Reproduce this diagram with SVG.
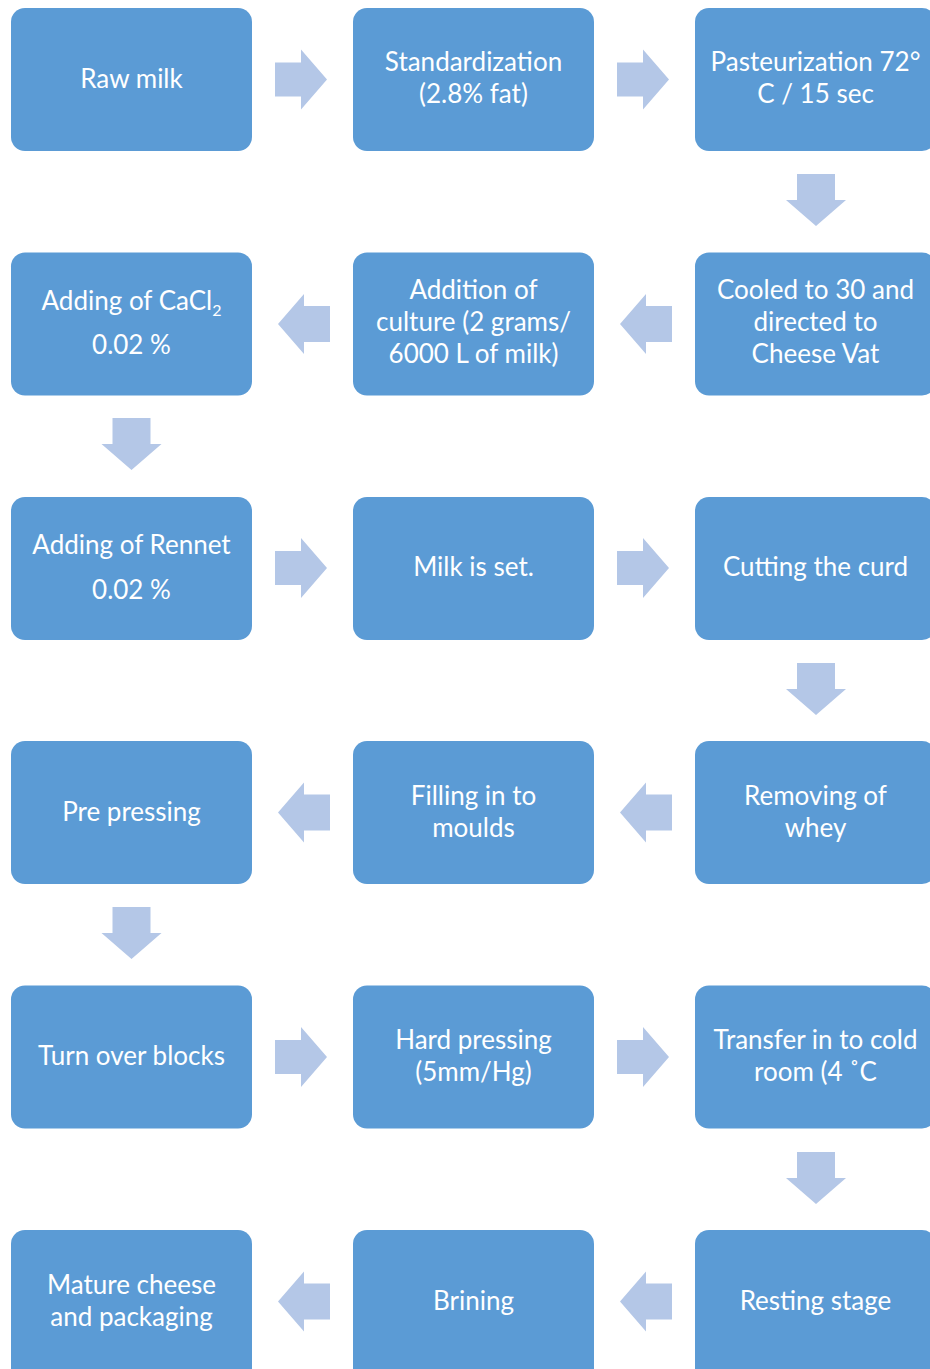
<svg xmlns="http://www.w3.org/2000/svg" width="930" height="1369" viewBox="0 0 930 1369">
<style>
.box{fill:#5B9BD5}
.arr{fill:#B4C7E7}
.t{font-family:Lato,"Noto Sans",sans-serif;font-size:26px;fill:#FFFFFF;text-anchor:middle}
</style>
<defs>
<path id="ra" d="M0,-17 H26 V-30 L52,0 L26,30 V17 H0 Z"/>
<path id="la" d="M52,-18 H26 V-30 L0,0 L26,30 V18 H52 Z"/>
<path id="da" d="M-19,0 H19 V26 H30 L0,52 L-30,26 H-19 Z"/>
</defs>
<rect width="930" height="1369" fill="#FFFFFF"/>
<g id="connectors" class="arr">
<use href="#ra" x="275" y="79.5"/>
<use href="#ra" x="617" y="79.5"/>
<use href="#da" x="816" y="174"/>
<use href="#la" x="620" y="324"/>
<use href="#la" x="278" y="324"/>
<use href="#da" x="131.5" y="418"/>
<use href="#ra" x="275" y="568"/>
<use href="#ra" x="617" y="568"/>
<use href="#da" x="816" y="663"/>
<use href="#la" x="620" y="812.5"/>
<use href="#la" x="278" y="812.5"/>
<use href="#da" x="131.5" y="907"/>
<use href="#ra" x="275" y="1057"/>
<use href="#ra" x="617" y="1057"/>
<use href="#da" x="816" y="1152"/>
<use href="#la" x="620" y="1301.5"/>
<use href="#la" x="278" y="1301.5"/>
</g>
<g id="n1"><rect class="box" x="11" y="8" width="241" height="143" rx="14"/><text class="t" x="131.5" y="88">Raw milk</text></g>
<g id="n2"><rect class="box" x="353" y="8" width="241" height="143" rx="14"/><text class="t" x="473.5" y="71">Standardization</text><text class="t" x="473.5" y="103">(2.8% fat)</text></g>
<g id="n3"><rect class="box" x="695" y="8" width="241" height="143" rx="14"/><text class="t" x="815.5" y="71">Pasteurization 72°</text><text class="t" x="815.5" y="103">C / 15 sec</text></g>
<g id="n4"><rect class="box" x="695" y="252.5" width="241" height="143" rx="14"/><text class="t" x="815.5" y="299">Cooled to 30 and</text><text class="t" x="815.5" y="331">directed to</text><text class="t" x="815.5" y="363">Cheese Vat</text></g>
<g id="n5"><rect class="box" x="353" y="252.5" width="241" height="143" rx="14"/><text class="t" x="473.5" y="299">Addition of</text><text class="t" x="473.5" y="331">culture (2 grams/</text><text class="t" x="473.5" y="363">6000 L of milk)</text></g>
<g id="n6"><rect class="box" x="11" y="252.5" width="241" height="143" rx="14"/><text class="t" x="131.5" y="310">Adding of CaCl<tspan font-size="16" dy="6">2</tspan></text><text class="t" x="131.5" y="354">0.02 %</text></g>
<g id="n7"><rect class="box" x="11" y="497" width="241" height="143" rx="14"/><text class="t" x="131.5" y="554">Adding of Rennet</text><text class="t" x="131.5" y="599">0.02 %</text></g>
<g id="n8"><rect class="box" x="353" y="497" width="241" height="143" rx="14"/><text class="t" x="473.5" y="576">Milk is set.</text></g>
<g id="n9"><rect class="box" x="695" y="497" width="241" height="143" rx="14"/><text class="t" x="815.5" y="576">Cutting the curd</text></g>
<g id="n10"><rect class="box" x="695" y="741" width="241" height="143" rx="14"/><text class="t" x="815.5" y="805">Removing of</text><text class="t" x="815.5" y="837">whey</text></g>
<g id="n11"><rect class="box" x="353" y="741" width="241" height="143" rx="14"/><text class="t" x="473.5" y="805">Filling in to</text><text class="t" x="473.5" y="837">moulds</text></g>
<g id="n12"><rect class="box" x="11" y="741" width="241" height="143" rx="14"/><text class="t" x="131.5" y="821">Pre pressing</text></g>
<g id="n13"><rect class="box" x="11" y="985.5" width="241" height="143" rx="14"/><text class="t" x="131.5" y="1065">Turn over blocks</text></g>
<g id="n14"><rect class="box" x="353" y="985.5" width="241" height="143" rx="14"/><text class="t" x="473.5" y="1049">Hard pressing</text><text class="t" x="473.5" y="1081">(5mm/Hg)</text></g>
<g id="n15"><rect class="box" x="695" y="985.5" width="241" height="143" rx="14"/><text class="t" x="815.5" y="1049">Transfer in to cold</text><text class="t" x="815.5" y="1081">room (4 ˚C</text></g>
<g id="n16"><rect class="box" x="695" y="1230" width="241" height="160" rx="14"/><text class="t" x="815.5" y="1310">Resting stage</text></g>
<g id="n17"><rect class="box" x="353" y="1230" width="241" height="160" rx="14"/><text class="t" x="473.5" y="1310">Brining</text></g>
<g id="n18"><rect class="box" x="11" y="1230" width="241" height="160" rx="14"/><text class="t" x="131.5" y="1294">Mature cheese</text><text class="t" x="131.5" y="1326">and packaging</text></g>
</svg>
